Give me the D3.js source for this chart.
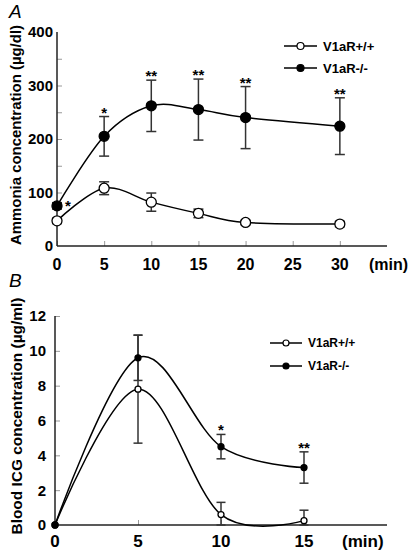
<!DOCTYPE html>
<html><head><meta charset="utf-8">
<script src="https://cdn.jsdelivr.net/npm/d3@7"></script>
<style>body{margin:0;background:#fff}svg{display:block}text{font-family:"Liberation Sans",Arial,sans-serif}</style>
</head><body>
<svg id="c" width="413" height="550"></svg>
<script>
// Panel A: ammonia concentration
const timeA = [0, 5, 10, 15, 20, 30];
const wtA = [47, 108, 82, 61, 44, 41];
const wtAErr = [5, 12, 17, 8, 4, 5];
const koA = [75, 205, 262, 255, 240, 224];
const koAErr = [6, 37, 48, 57, 58, 53];
const starsA = ["*", "*", "**", "**", "**", "**"];
const ticksAx = [0, 5, 10, 15, 20, 25, 30];
const ticksAy = [0, 100, 200, 300, 400];
// Panel B: blood ICG concentration
const timeB = [0, 5, 10, 15];
const wtB = [0, 7.8, 0.6, 0.25];
const wtBErr = [0, 3.1, 0.7, 0.6];
const koB = [0, 9.6, 4.5, 3.3];
const koBErr = [0, 1.3, 0.7, 0.9];
const starsB = ["", "", "*", "**"];
const ticksBx = [0, 5, 10, 15];
const ticksBy = [0, 2, 4, 6, 8, 10, 12];
const seriesNames = ["V1aR+/+", "V1aR-/-"];

const svg = d3.select("#c");

function panel(cfg) {
  const x = d3.scaleLinear().domain(cfg.xd).range([cfg.x0, cfg.x1]);
  const y = d3.scaleLinear().domain(cfg.yd).range([cfg.y0, cfg.y1]);
  const g = svg.append("g");
  // inward ticks
  const ya = g.append("g").attr("transform", `translate(${cfg.x0},0)`)
    .call(d3.axisRight(y).tickValues(cfg.minorY).tickSize(5).tickFormat(""));
  ya.select(".domain").remove();
  ya.selectAll("line").attr("stroke", "#999").attr("stroke-width", 1);
  const xa = g.append("g").attr("transform", `translate(0,${cfg.y0})`)
    .call(d3.axisTop(x).tickValues(cfg.xt).tickSize(5).tickFormat(""));
  xa.select(".domain").remove();
  xa.selectAll("line").attr("stroke", "#999").attr("stroke-width", 1);
  // axis lines
  g.append("line").attr("x1", cfg.x0).attr("x2", cfg.x0).attr("y1", y(cfg.yd[1])).attr("y2", cfg.y0).attr("stroke", "#222").attr("stroke-width", 1.5);
  g.append("line").attr("x1", cfg.x0).attr("x2", cfg.x1).attr("y1", cfg.y0).attr("y2", cfg.y0).attr("stroke", "#222").attr("stroke-width", 1.5);
  // tick labels
  g.selectAll(".yl").data(cfg.yt).join("text").attr("x", cfg.x0 - cfg.ygap).attr("y", d => y(d)).attr("dy", "0.36em")
    .attr("text-anchor", "end").attr("font-size", cfg.fs).attr("font-weight", "bold").text(d => d);
  g.selectAll(".xl").data(cfg.xt).join("text").attr("x", d => x(d)).attr("y", cfg.xlabY)
    .attr("text-anchor", "middle").attr("font-size", cfg.xfs).attr("font-weight", "bold").text(d => d);
  g.append("text").attr("x", cfg.minX).attr("y", cfg.xlabY).attr("font-size", cfg.xfs).attr("font-weight", "bold").text("(min)");
  // y title
  g.append("text").attr("transform", `translate(${cfg.titleX},${cfg.titleY}) rotate(-90)`).attr("text-anchor", "middle")
    .attr("font-size", cfg.tfs).attr("font-weight", "bold").attr("textLength", cfg.titleLen).attr("lengthAdjust", "spacingAndGlyphs").text(cfg.title);
  // panel letter
  g.append("text").attr("x", cfg.letterX).attr("y", cfg.letterY).attr("font-size", 19).attr("font-style", "italic").text(cfg.letter);

  const line = d3.line().x(d => x(d[0])).y(d => y(d[1])).curve(d3.curveCardinal.tension(0));
  const series = [
    {v: cfg.wt, e: cfg.wtE, fill: "#fff"},
    {v: cfg.ko, e: cfg.koE, fill: "#000"}
  ];
  series.forEach(s => {
    const pts = cfg.t.map((t, i) => [t, s.v[i]]);
    g.append("path").attr("d", line(pts)).attr("fill", "none").attr("stroke", "#000").attr("stroke-width", 1.5);
  });
  series.forEach(s => {
    cfg.t.forEach((t, i) => {
      if (!s.e[i]) return;
      const cx = x(t), hi = y(s.v[i] + s.e[i]), lo = y(Math.max(s.v[i] - s.e[i], cfg.yd[0]));
      g.append("line").attr("x1", cx).attr("x2", cx).attr("y1", hi).attr("y2", lo).attr("stroke", "#333").attr("stroke-width", 1.5);
      [hi, lo].forEach(yy => g.append("line").attr("x1", cx - cfg.cap).attr("x2", cx + cfg.cap).attr("y1", yy).attr("y2", yy).attr("stroke", "#333").attr("stroke-width", 1.5));
    });
  });
  series.forEach(s => {
    g.selectAll(null).data(cfg.t).join("circle").attr("cx", d => x(d)).attr("cy", (d, i) => y(s.v[i])).attr("r", cfg.r)
      .attr("fill", s.fill).attr("stroke", "#000").attr("stroke-width", 1.3);
  });
  // significance stars
  cfg.t.forEach((t, i) => {
    const st = cfg.stars[i];
    if (!st) return;
    if (cfg.sideStar && i === 0) {
      g.append("text").attr("x", x(t) + 8).attr("y", y(cfg.ko[i]) + 5).attr("font-size", cfg.sfs).attr("font-weight", "bold").text(st);
    } else {
      g.append("text").attr("x", x(t)).attr("y", y(cfg.ko[i] + cfg.koE[i]) + 1)
        .attr("text-anchor", "middle").attr("font-size", cfg.sfs).attr("font-weight", "bold").text(st);
    }
  });
  // legend
  seriesNames.forEach((n, i) => {
    const ly = cfg.legY + i * cfg.legGap;
    g.append("line").attr("x1", cfg.legX).attr("x2", cfg.legX + cfg.legW).attr("y1", ly).attr("y2", ly).attr("stroke", "#000").attr("stroke-width", 1.5);
    g.append("circle").attr("cx", cfg.legX + cfg.legW / 2).attr("cy", ly).attr("r", cfg.legR).attr("fill", series[i].fill).attr("stroke", "#000").attr("stroke-width", 1.2);
    g.append("text").attr("x", cfg.legX + cfg.legW + 6).attr("y", ly).attr("dy", "0.36em").attr("font-size", cfg.lfs).attr("font-weight", "bold").text(n);
  });
}

panel({
  xd: [0, 35], yd: [0, 400], x0: 57, x1: 387, y0: 246, y1: 32,
  xt: ticksAx, yt: ticksAy, minorY: d3.range(50, 400, 50),
  t: timeA, wt: wtA, wtE: wtAErr, ko: koA, koE: koAErr, stars: starsA, sideStar: true,
  fs: 15, xfs: 16, xlabY: 270, ygap: 4, tfs: 14, sfs: 15, r: 5, cap: 5, minX: 369,
  title: "Ammonia concentration (\u00b5g/dl)", titleX: 21, titleY: 135, titleLen: 220,
  letter: "A", letterX: 9, letterY: 18,
  legX: 284, legW: 33, legY: 46, legGap: 22, legR: 3.5, lfs: 13
});
panel({
  xd: [0, 20], yd: [0, 12], x0: 55, x1: 387, y0: 525, y1: 316,
  xt: ticksBx, yt: ticksBy, minorY: ticksBy.slice(1),
  t: timeB, wt: wtB, wtE: wtBErr, ko: koB, koE: koBErr, stars: starsB, sideStar: false,
  fs: 15, xfs: 17, xlabY: 547, ygap: 9, tfs: 14, sfs: 15, r: 3, cap: 4.5, minX: 342,
  title: "Blood ICG concentration (\u00b5g/ml)", titleX: 22, titleY: 416, titleLen: 237,
  letter: "B", letterX: 9, letterY: 287,
  legX: 270, legW: 32, legY: 343, legGap: 23, legR: 3, lfs: 12
});
</script>
</body></html>
